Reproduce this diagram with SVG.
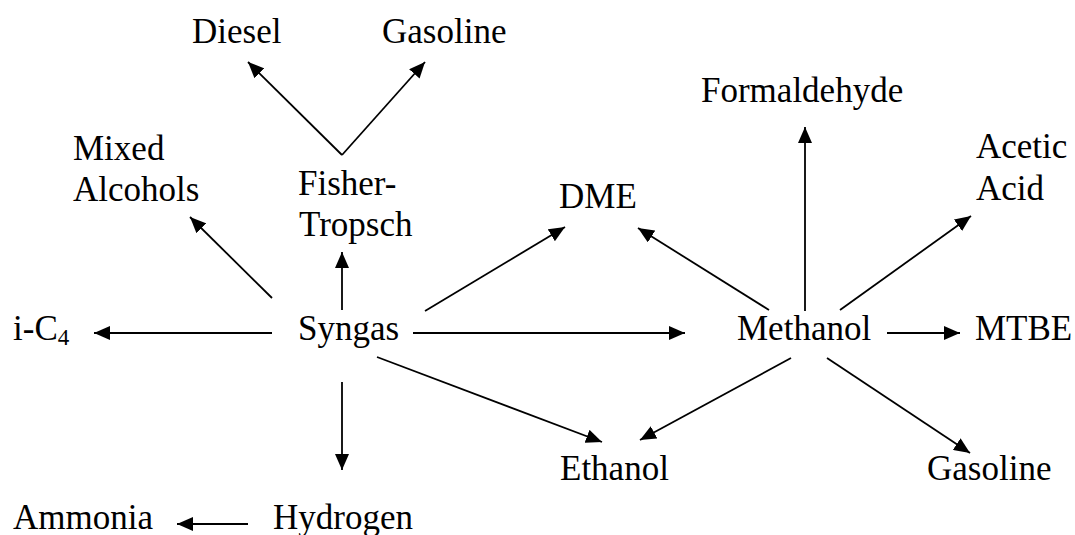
<svg xmlns="http://www.w3.org/2000/svg" width="1075" height="535" viewBox="0 0 1075 535">
<style>
text{font-family:"Liberation Serif","Times New Roman",serif;font-size:35px;fill:#000}
.sub{font-size:23px}
#connectors line{stroke:#000;stroke-width:1.8;marker-end:url(#ah)}
</style>
<defs>
<marker id="ah" markerUnits="userSpaceOnUse" markerWidth="16" markerHeight="14" refX="16" refY="7" orient="auto">
<path d="M0,0 L16,7 L0,14 z" fill="#000"/>
</marker>
</defs>
<rect width="1075" height="535" fill="#fff"/>
<g id="connectors">
<line x1="342" y1="155" x2="248" y2="62"/>
<line x1="342" y1="155" x2="425" y2="62"/>
<line x1="342" y1="310" x2="342" y2="252"/>
<line x1="272" y1="298" x2="190" y2="217"/>
<line x1="272" y1="333" x2="94" y2="333"/>
<line x1="425" y1="311" x2="565" y2="227"/>
<line x1="413" y1="333" x2="685" y2="333"/>
<line x1="377" y1="357" x2="602" y2="442"/>
<line x1="342" y1="382" x2="342" y2="470"/>
<line x1="248" y1="524" x2="177" y2="524"/>
<line x1="769" y1="310" x2="638" y2="228"/>
<line x1="805" y1="311" x2="805" y2="127"/>
<line x1="840" y1="310" x2="971" y2="216"/>
<line x1="887" y1="333" x2="960" y2="333"/>
<line x1="791" y1="358" x2="640" y2="440"/>
<line x1="827" y1="358" x2="970" y2="453"/>
</g>
<g id="diesel"><text x="192" y="43">Diesel</text></g>
<g id="gasoline-ft"><text x="382" y="43">Gasoline</text></g>
<g id="formaldehyde"><text x="701" y="102">Formaldehyde</text></g>
<g id="mixed-alcohols"><text x="73" y="160">Mixed</text><text x="73" y="201">Alcohols</text></g>
<g id="fischer-tropsch"><text x="298" y="195">Fisher-</text><text x="299" y="236">Tropsch</text></g>
<g id="dme"><text x="559" y="208">DME</text></g>
<g id="acetic-acid"><text x="976" y="158">Acetic</text><text x="976" y="200">Acid</text></g>
<g id="ic4"><text x="13" y="340">i-C<tspan class="sub" dy="5">4</tspan></text></g>
<g id="syngas"><text x="298" y="340">Syngas</text></g>
<g id="methanol"><text x="737" y="340">Methanol</text></g>
<g id="mtbe"><text x="975" y="340">MTBE</text></g>
<g id="ethanol"><text x="560" y="480">Ethanol</text></g>
<g id="gasoline-mtg"><text x="927" y="480">Gasoline</text></g>
<g id="ammonia"><text x="13" y="529">Ammonia</text></g>
<g id="hydrogen"><text x="273" y="529">Hydrogen</text></g>
</svg>
